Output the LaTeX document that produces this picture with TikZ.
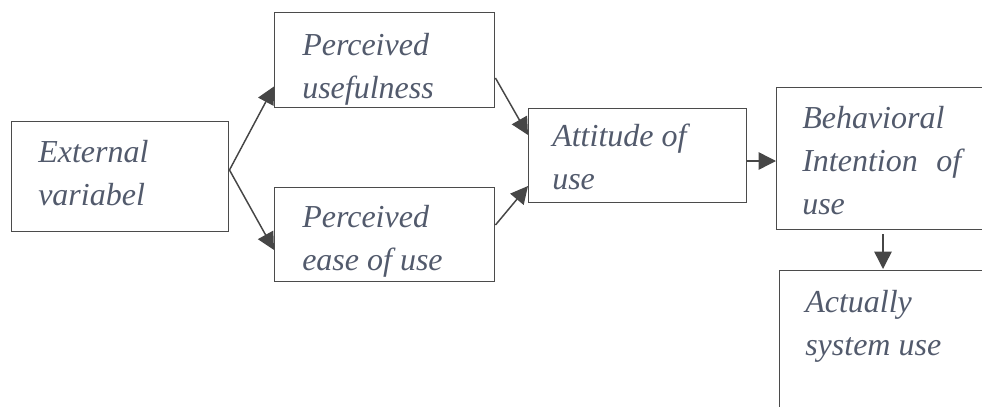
\documentclass[tikz,border=0pt]{standalone}
\usepackage{fontspec}
\setmainfont{Liberation Serif}
\usetikzlibrary{arrows.meta,calc,positioning}
\definecolor{boxline}{RGB}{75,75,75}
\definecolor{lblgray}{RGB}{82,90,108}
\definecolor{arrgray}{RGB}{70,70,70}

\begin{document}
\begin{tikzpicture}[
  x=0.75pt, y=-0.75pt,
  box/.style 2 args={rectangle, draw=boxline, line width=1.1pt, anchor=north west, inner sep=0pt, minimum width=#1*0.75pt, minimum height=#2*0.75pt},
  lbl/.style={anchor=base west, inner sep=0pt, align=left, text=lblgray, font=\fontsize{24}{32}\selectfont\itshape},
  every edge/.style={draw=arrgray, line width=1.1pt, -{Triangle[length=13pt, width=13pt]}}
]
  \clip (0,0) rectangle (982,407);

  % boxes
  \node[box={217}{110}] (ext) at (11,121) {};
  \node[box={220}{95}] (useful) at (274,12) {};
  \node[box={220}{94}] (ease) at (274,187) {};
  \node[box={218}{94}] (att) at (528,108) {};
  \node[box={224}{142}] (beh) at (776,87) {};
  \node[box={221}{150}] (act) at (779,270) {};

  % texts (anchored at the last line)
  \node[lbl] (extT) at ($(ext.north west)+(27,84)$) {External\\variabel};
  \node[lbl] (usefulT) at ($(useful.north west)+(28,86)$) {Perceived\\usefulness};
  \node[lbl] (easeT) at ($(ease.north west)+(28,83)$) {Perceived\\ease of use};
  \node[lbl] (attT) at ($(att.north west)+(24,81)$) {Attitude of\\use};
  \node[lbl] (behT) at ($(beh.north west)+(26,127)$) {Behavioral\\Intention\hspace{14pt}of\\use};
  \node[lbl] (actT) at ($(act.north west)+(26,85)$) {Actually\\system use};

  \path
    ($(ext.north east)+(0,49)$) edge ($(useful.south west)+(0,-22)$)
    ($(ext.north east)+(0,49)$) edge ($(ease.north west)+(0,63)$)
    ($(useful.north east)+(0,66)$) edge ($(att.north west)+(0,27)$)
    ($(ease.north east)+(0,38)$) edge ($(att.north west)+(0,78)$)
    ($(att.north east)+(0,53)$) edge ($(beh.north west)+(0,74)$)
    ($(beh.south west)+(107,4)$) edge ($(act.north west)+(104,-1)$);
\end{tikzpicture}
\end{document}
